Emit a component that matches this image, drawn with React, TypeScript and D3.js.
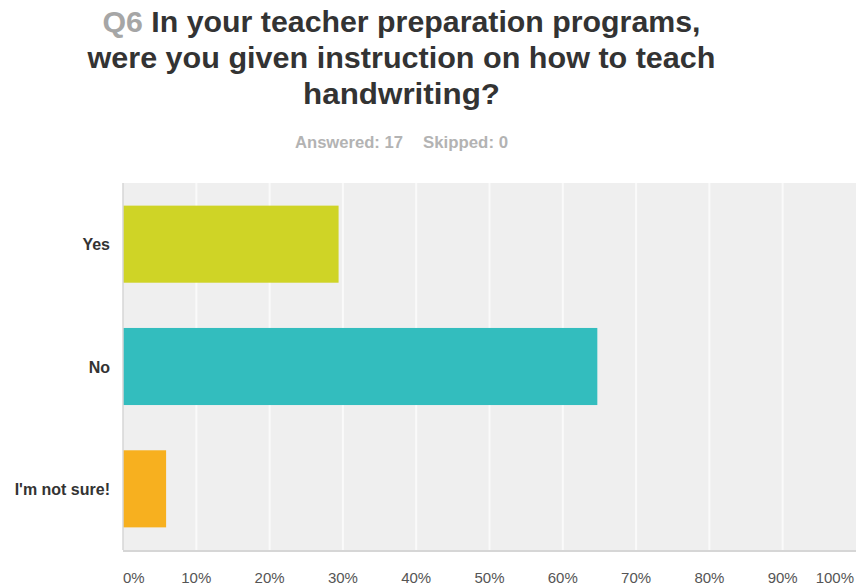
import React from "react";
import * as d3 from "d3";

const categories = ["Yes", "No", "I'm not sure!"];
const values = [29.41, 64.71, 5.88];
const barColors = ["#cfd426", "#33bdbe", "#f7b01f"];
const ticks = [0, 10, 20, 30, 40, 50, 60, 70, 80, 90, 100];
const titleLines = [
  ["Q6 ", "In your teacher preparation programs,"],
  ["", "were you given instruction on how to teach"],
  ["", "handwriting?"],
];
const titleWidths = [598, 628, 197];
const subtitle = ["Answered: 17", "Skipped: 0"];

const W = 859;
const H = 588;
const M = { left: 123, right: 3, top: 183, bottom: 38 };

export default function App() {
  const x = d3.scaleLinear().domain([0, 100]).range([M.left, W - M.right]);
  const y = d3
    .scaleBand<string>()
    .domain(categories)
    .range([M.top, H - M.bottom])
    .paddingInner(0.37)
    .paddingOuter(0.185);
  const font = "'Liberation Sans', Arial, Helvetica, sans-serif";
  const cx = 401.5;
  return (
    <svg
      width={W}
      height={H}
      style={{ position: "absolute", left: 0, top: 0, background: "#fff" }}
      fontFamily={font}
    >
      {titleLines.map((l, i) => (
        <text
          key={i}
          x={cx}
          y={32 + i * 36}
          textAnchor="middle"
          fontSize={29.5}
          fontWeight="bold"
          fill="#333"
          textLength={titleWidths[i]}
          lengthAdjust="spacingAndGlyphs"
        >
          {l[0] && <tspan fill="#a6a6a6">{l[0]}</tspan>}
          <tspan>{l[1]}</tspan>
        </text>
      ))}
      <text x={295} y={148} fontSize={16} fontWeight="bold" fill="#b3b3b3" textLength={108} lengthAdjust="spacingAndGlyphs">
        {subtitle[0]}
      </text>
      <text x={423} y={148} fontSize={16} fontWeight="bold" fill="#b3b3b3" textLength={85} lengthAdjust="spacingAndGlyphs">
        {subtitle[1]}
      </text>
      <rect
        x={M.left}
        y={M.top}
        width={W - M.right - M.left}
        height={H - M.bottom - M.top}
        fill="#efefef"
      />
      {ticks.slice(1, -1).map((t) => (
        <line
          key={t}
          x1={x(t)}
          x2={x(t)}
          y1={M.top}
          y2={H - M.bottom}
          stroke="#fafafa"
          strokeWidth={2}
        />
      ))}
      {categories.map((c, i) => (
        <rect
          key={c}
          x={x(0)}
          y={y(c)}
          width={x(values[i]) - x(0)}
          height={y.bandwidth()}
          fill={barColors[i]}
        />
      ))}
      <line x1={M.left} x2={M.left} y1={M.top} y2={H - M.bottom} stroke="#d6d6d6" strokeWidth={1.5} />
      <line
        x1={M.left}
        x2={W - M.right}
        y1={H - M.bottom + 1}
        y2={H - M.bottom + 1}
        stroke="#d6d6d6"
        strokeWidth={2}
      />
      {categories.map((c) => (
        <text
          key={c}
          x={110}
          y={(y(c) as number) + y.bandwidth() / 2 + 6}
          textAnchor="end"
          fontSize={16}
          fontWeight="bold"
          fill="#333"
        >
          {c}
        </text>
      ))}
      {ticks.map((t, i) => (
        <text
          key={t}
          x={i === 0 ? x(t) : i === ticks.length - 1 ? x(t) - 2 : x(t)}
          y={583}
          textAnchor={i === 0 ? "start" : i === ticks.length - 1 ? "end" : "middle"}
          fontSize={15}
          fill="#555"
        >
          {t}%
        </text>
      ))}
    </svg>
  );
}
